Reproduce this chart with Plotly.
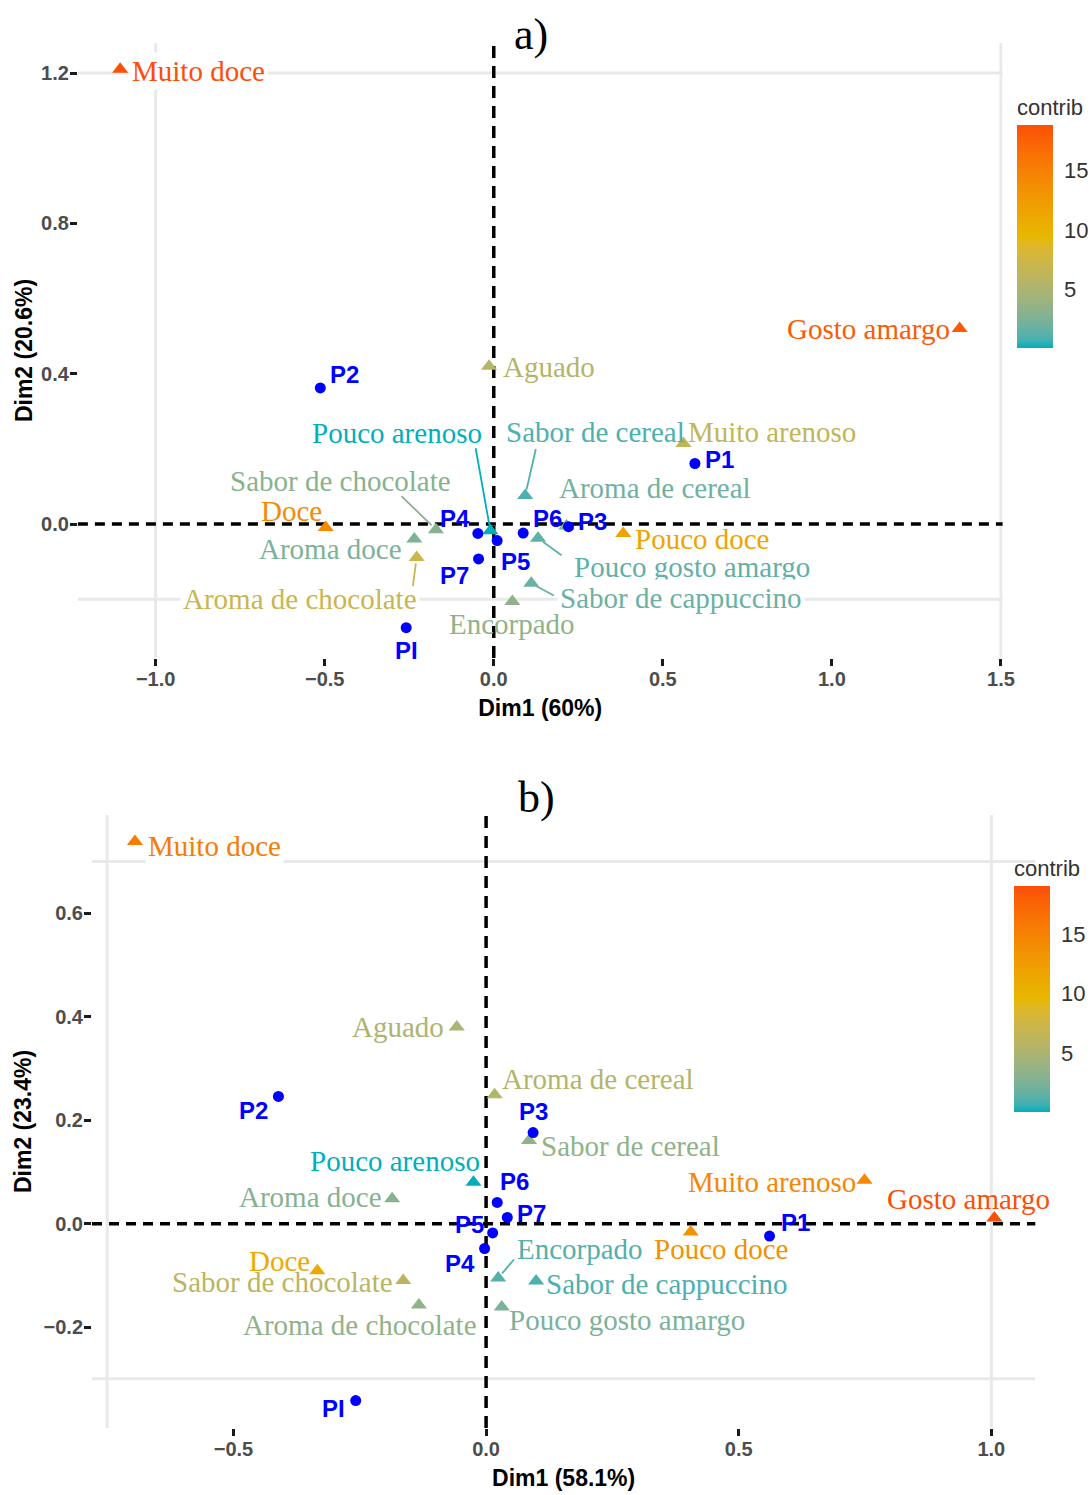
import plotly.graph_objects as go
from plotly.colors import sample_colorscale

# ---------------- data: correspondence analysis coordinates ----------------
attributes = [
    "Muito doce", "Gosto amargo", "Aguado", "Pouco arenoso", "Sabor de cereal",
    "Muito arenoso", "Sabor de chocolate", "Aroma de cereal", "Doce", "Pouco doce",
    "Aroma doce", "Pouco gosto amargo", "Aroma de chocolate", "Sabor de cappuccino",
    "Encorpado",
]
products = ["P1", "P2", "P3", "P4", "P5", "P6", "P7", "PI"]

# panel a)
a_attr_dim1 = [-1.105, 1.378, -0.014, -0.010, 0.093, 0.561, -0.171, 0.215, -0.497, 0.383,
               -0.235, 0.131, -0.228, 0.111, 0.055]
a_attr_dim2 = [1.210, 0.520, 0.420, -0.018, 0.076, 0.214, -0.015, -0.005, -0.009, -0.025,
               -0.040, -0.038, -0.089, -0.158, -0.206]
a_attr_contrib = [18.8, 18.0, 5.5, 0.1, 1.0, 6.5, 3.0, 2.0, 14.0, 11.5,
                  2.5, 1.5, 7.0, 1.8, 3.5]
a_prod_dim1 = [0.595, -0.513, 0.221, -0.047, 0.010, 0.087, -0.045, -0.259]
a_prod_dim2 = [0.161, 0.362, -0.007, -0.025, -0.044, -0.024, -0.093, -0.276]

# panel b)
b_attr_dim1 = [-0.695, 1.006, -0.058, -0.025, 0.085, 0.749, -0.164, 0.017, -0.334, 0.405,
               -0.186, 0.031, -0.133, 0.099, 0.024]
b_attr_dim2 = [0.739, 0.011, 0.380, 0.080, 0.161, 0.084, -0.110, 0.249, -0.091, -0.016,
               0.048, -0.161, -0.157, -0.111, -0.105]
b_attr_contrib = [15.5, 19.0, 5.0, 0.1, 3.5, 14.5, 6.0, 5.5, 11.0, 13.5,
                  3.0, 2.5, 3.5, 1.0, 1.2]
b_prod_dim1 = [0.561, -0.411, 0.093, -0.003, 0.013, 0.022, 0.042, -0.258]
b_prod_dim2 = [-0.024, 0.246, 0.176, -0.048, -0.018, 0.041, 0.012, -0.342]

a_xticks = [-1.0, -0.5, 0.0, 0.5, 1.0, 1.5]
a_yticks = [0.0, 0.4, 0.8, 1.2]
b_xticks = [-0.5, 0.0, 0.5, 1.0]
b_yticks = [-0.2, 0.0, 0.2, 0.4, 0.6]
contrib_ticks = [5, 10, 15]

# ---------------- colour gradient (interpolated in CIE Lab) ----------------
GRADIENT = ["#00AFBB", "#E7B800", "#FC4E07"]


def _lin(c):
    c = c / 255.0
    return c / 12.92 if c <= 0.04045 else ((c + 0.055) / 1.055) ** 2.4


def _unlin(c):
    c = 12.92 * c if c <= 0.0031308 else 1.055 * c ** (1 / 2.4) - 0.055
    return max(0, min(255, round(c * 255)))


WHITE = (0.95047, 1.0, 1.08883)


def hex_to_lab(h):
    r, g, b = (_lin(int(h[i:i + 2], 16)) for i in (1, 3, 5))
    X = 0.4124 * r + 0.3576 * g + 0.1805 * b
    Y = 0.2126 * r + 0.7152 * g + 0.0722 * b
    Z = 0.0193 * r + 0.1192 * g + 0.9505 * b
    f = lambda t: t ** (1 / 3) if t > 0.008856 else 7.787 * t + 16 / 116
    fx, fy, fz = f(X / WHITE[0]), f(Y / WHITE[1]), f(Z / WHITE[2])
    return (116 * fy - 16, 500 * (fx - fy), 200 * (fy - fz))


def lab_to_hex(lab):
    L, a, b = lab
    fy = (L + 16) / 116
    fx = fy + a / 500
    fz = fy - b / 200
    finv = lambda t: t ** 3 if t ** 3 > 0.008856 else (t - 16 / 116) / 7.787
    X, Y, Z = finv(fx) * WHITE[0], finv(fy) * WHITE[1], finv(fz) * WHITE[2]
    r = 3.2406 * X - 1.5372 * Y - 0.4986 * Z
    g = -0.9689 * X + 1.8758 * Y + 0.0415 * Z
    bb = 0.0557 * X - 0.2040 * Y + 1.0570 * Z
    return "#%02X%02X%02X" % (_unlin(r), _unlin(g), _unlin(bb))


def lab_scale(colors, n=30):
    labs = [hex_to_lab(c) for c in colors]
    segs = len(colors) - 1
    stops = []
    for i in range(n + 1):
        t = i / n
        s = min(int(t * segs), segs - 1)
        u = t * segs - s
        stops.append([t, lab_to_hex([labs[s][k] + (labs[s + 1][k] - labs[s][k]) * u
                                     for k in range(3)])])
    return stops


SCALE = lab_scale(GRADIENT)


def contrib_colors(values):
    lo, hi = min(values), max(values)
    return sample_colorscale(SCALE, [(v - lo) / (hi - lo) for v in values])


# ---------------- label placement (pixel offsets from each point) ----------------
# (xanchor, xshift, yshift[, (leader tail dx, dy)])
a_attr_style = {
    "Muito doce": ("left", 9, -2),
    "Gosto amargo": ("right", -7, 0),
    "Aguado": ("left", 11, -1),
    "Pouco arenoso": ("right", -5, 98, (-15, -84)),
    "Sabor de cereal": ("left", -22, 63, (11, -48)),
    "Muito arenoso": ("left", 2, 12),
    "Sabor de chocolate": ("right", 18, 49, (-36, -35)),
    "Aroma de cereal": ("left", -10, 38),
    "Doce": ("right", -1, 16),
    "Pouco doce": ("left", 9, -6),
    "Aroma doce": ("right", -9, -10),
    "Pouco gosto amargo": ("left", 33, -29, (25, 18)),
    "Aroma de chocolate": ("right", 3, -42, (-4, 30)),
    "Sabor de cappuccino": ("left", 26, -15, (24, 13)),
    "Encorpado": ("center", 0, -23),
}
a_prod_style = {
    "P1": ("left", 8, 4), "P2": ("left", 8, 13), "P3": ("left", 8, 5),
    "P4": ("right", -6, 15), "P5": ("left", 2, -21), "P6": ("left", 8, 15),
    "P7": ("right", -8, -17), "PI": ("center", 0, -23),
}
b_attr_style = {
    "Muito doce": ("left", 10, -5),
    "Gosto amargo": ("center", -26, 19),
    "Aguado": ("right", -10, 0),
    "Pouco arenoso": ("right", 10, 21),
    "Sabor de cereal": ("left", 9, -6),
    "Muito arenoso": ("right", -6, -2),
    "Sabor de chocolate": ("right", -7, -1),
    "Aroma de cereal": ("left", 4, 16),
    "Doce": ("right", -4, 10),
    "Pouco doce": ("center", 31, -17),
    "Aroma doce": ("right", -7, 2),
    "Pouco gosto amargo": ("left", 4, -13),
    "Aroma de chocolate": ("center", -59, -20),
    "Sabor de cappuccino": ("left", 7, -3),
    "Encorpado": ("left", 16, 29, (17, -20)),
}
b_prod_style = {
    "P1": ("left", 9, 14), "P2": ("right", -8, -14), "P3": ("center", 0, 21),
    "P4": ("right", -8, -15), "P5": ("right", -7, 8), "P6": ("left", 1, 21),
    "P7": ("left", 8, 4), "PI": ("right", -9, -8),
}
a_boxed = {"Muito doce", "Aroma de chocolate", "Sabor de cappuccino"}
b_boxed = {"Muito doce"}

SERIF = "Liberation Serif"
SANS = "Liberation Sans"
W, H = 1092, 1495

fig = go.Figure()


def add_panel(xa, ya, cax, dim1, dim2, contrib, pdim1, pdim2,
              attr_style, prod_style, boxed):
    xref, yref = xa, ya
    colors = contrib_colors(contrib)
    fig.add_trace(go.Scatter(
        x=dim1, y=dim2, mode="markers", xaxis=xa, yaxis=ya, text=attributes,
        marker=dict(symbol="triangle-up", size=14, color=contrib, coloraxis=cax),
        hoverinfo="text"))
    fig.add_trace(go.Scatter(
        x=pdim1, y=pdim2, mode="markers", xaxis=xa, yaxis=ya, text=products,
        marker=dict(symbol="circle", size=11, color="#0000FF"), hoverinfo="text"))
    for name, x, y, col in zip(attributes, dim1, dim2, colors):
        st = attr_style[name]
        fig.add_annotation(
            x=x, y=y, xref=xref, yref=yref, text=name, showarrow=False,
            xanchor=st[0], xshift=st[1], yshift=st[2],
            font=dict(family=SERIF, size=29, color=col),
            bgcolor="white" if name in boxed else None, borderpad=2)
        if len(st) > 3:
            fig.add_annotation(
                x=x, y=y, xref=xref, yref=yref, text="", showarrow=True,
                ax=st[3][0], ay=st[3][1], axref="pixel", ayref="pixel",
                arrowhead=0, arrowwidth=1.8, arrowcolor=col, standoff=6)
    for name, x, y in zip(products, pdim1, pdim2):
        st = prod_style[name]
        fig.add_annotation(
            x=x, y=y, xref=xref, yref=yref, text=name, showarrow=False,
            xanchor=st[0], xshift=st[1], yshift=st[2],
            font=dict(family=SANS, size=24, color="#0000FF", weight="bold"))


add_panel("x", "y", "coloraxis", a_attr_dim1, a_attr_dim2, a_attr_contrib,
          a_prod_dim1, a_prod_dim2, a_attr_style, a_prod_style, a_boxed)
add_panel("x2", "y2", "coloraxis2", b_attr_dim1, b_attr_dim2, b_attr_contrib,
          b_prod_dim1, b_prod_dim2, b_attr_style, b_prod_style, b_boxed)

# ---------------- reference lines ----------------
GRID = dict(color="#E9E9E9", width=3)
DASH_H = dict(color="black", width=3.5, dash="10px,7px")
DASH_V = dict(color="black", width=3.5, dash="12px,8px")


def frame_and_axes(xa, ya, vlines, hlines):
    for v in vlines:
        fig.add_shape(type="line", xref=xa, yref=ya + " domain", x0=v, x1=v, y0=0, y1=1,
                      line=GRID, layer="below")
    for h in hlines:
        fig.add_shape(type="line", xref=xa + " domain", yref=ya, x0=0, x1=1, y0=h, y1=h,
                      line=GRID, layer="below")
    fig.add_shape(type="line", xref=xa, yref=ya + " domain", x0=0, x1=0, y0=0, y1=1,
                  line=DASH_V, layer="below")
    fig.add_shape(type="line", xref=xa + " domain", yref=ya, x0=0, x1=1, y0=0, y1=0,
                  line=DASH_H, layer="below")


frame_and_axes("x", "y", [-1.0, 1.5], [1.2, -0.2])
frame_and_axes("x2", "y2", [-0.75, 1.0], [0.7, -0.3])

# ---------------- axes ----------------
tickfont = dict(family=SANS, size=20, color="#4D4D4D", weight="bold")
titlefont = dict(family=SANS, size=23, color="black", weight="bold")
axis_common = dict(showgrid=False, zeroline=False, showline=False, ticks="outside",
                   ticklen=7, tickwidth=3, tickcolor="#1A1A1A", tickfont=tickfont,
                   tickformat=".1f")


def px_domain_x(left, right):
    return [left / W, right / W]


def px_domain_y(top, bottom):
    return [1 - bottom / H, 1 - top / H]


fig.update_layout(
    width=W, height=H, margin=dict(l=0, r=0, t=0, b=0, autoexpand=False),
    paper_bgcolor="white", plot_bgcolor="white", showlegend=False,
    xaxis=dict(domain=px_domain_x(77.9, 1002.6), range=[-1.23, 1.505], anchor="y",
               tickvals=a_xticks, ticklabelstandoff=-4,
               title=dict(text="Dim1 (60%)", font=titlefont, standoff=10), **axis_common),
    yaxis=dict(domain=px_domain_y(43, 658), range=[-0.3566, 1.28], anchor="x",
               tickvals=a_yticks, ticklabelstandoff=-3,
               title=dict(text="Dim2 (20.6%)", font=titlefont, standoff=2), **axis_common),
    xaxis2=dict(domain=px_domain_x(92.0, 1035.3), range=[-0.78, 1.087], anchor="y2",
                tickvals=b_xticks, ticklabelstandoff=-4,
                title=dict(text="Dim1 (58.1%)", font=titlefont, standoff=10), **axis_common),
    yaxis2=dict(domain=px_domain_y(815, 1428), range=[-0.395, 0.79], anchor="x2",
                tickvals=b_yticks, ticklabelstandoff=-3,
                title=dict(text="Dim2 (23.4%)", font=titlefont, standoff=5), **axis_common),
)


def colorbar(x_px, top_px, length):
    return dict(
        title=dict(text="contrib", side="top", font=dict(family=SANS, size=22, color="#333333")),
        x=x_px / W, xanchor="left", xpad=0, y=1 - top_px / H, yanchor="top", ypad=0,
        len=length, lenmode="pixels", thickness=36, thicknessmode="pixels",
        outlinewidth=0, tickvals=contrib_ticks, ticks="outside", ticklen=7,
        tickwidth=1, tickcolor="rgba(0,0,0,0)",
        tickfont=dict(family=SANS, size=22, color="#333333"))


fig.update_layout(
    coloraxis=dict(colorscale=SCALE, cmin=min(a_attr_contrib), cmax=max(a_attr_contrib),
                   colorbar=colorbar(1017, 95, 253)),
    coloraxis2=dict(colorscale=SCALE, cmin=min(b_attr_contrib), cmax=max(b_attr_contrib),
                    colorbar=colorbar(1014, 856, 256)),
)

# panel letters
for letter, cx, cy in (("a)", 531, 35), ("b)", 536, 797)):
    fig.add_annotation(text=letter, xref="paper", yref="paper", x=cx / W, y=1 - cy / H,
                       showarrow=False, xanchor="center", yanchor="middle",
                       font=dict(family=SERIF, size=44, color="black"))

fig.write_html("out.html")
